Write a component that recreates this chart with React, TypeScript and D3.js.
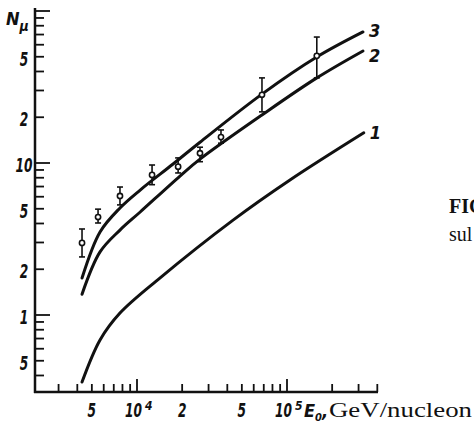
import React from 'react';
import * as d3 from 'd3';

// energies (GeV/nucleon) and muon numbers
const curve3E = [4300, 5670, 7700, 10500, 17400, 26300, 68100, 158000, 321000];
const curve3N = [1.75, 3.52, 5.06, 6.64, 9.85, 13.7, 28.4, 49.8, 72.8];
const curve2E = [4300, 5670, 7700, 10500, 19350, 26300, 68100, 158000, 321000];
const curve2N = [1.37, 2.6, 3.62, 4.76, 8.21, 10.6, 20.7, 36.3, 54.6];
const curve1E = [4300, 5670, 7700, 14200, 43700, 104700, 325000];
const curve1N = [0.362, 0.685, 1.03, 1.75, 4.21, 7.73, 15.8];

const pointE = [4300, 5500, 7700, 12600, 18800, 26300, 36300, 68100, 158000];
const pointN = [2.98, 4.41, 6.07, 8.35, 9.46, 11.6, 14.8, 28.1, 50.7];
const pointLo = [2.41, 4.03, 5.3, 7.2, 8.6, 10.2, 13.5, 21.7, 36.3];
const pointHi = [3.68, 4.97, 6.95, 9.7, 10.8, 12.7, 16.5, 36.3, 67.4];

const xMinor = [3000, 4000, 5000, 6000, 7000, 8000, 9000, 20000, 30000, 40000, 50000, 60000, 70000, 80000, 90000, 200000, 300000, 400000];
const xMajor = [10000, 100000];
const xMajorExp = ['4', '5'];
const xLabels = [[5000, '5'], [20000, '2'], [50000, '5']];
const yMinor = [0.4, 0.5, 0.6, 0.7, 0.8, 0.9, 2, 3, 4, 5, 6, 7, 8, 9, 20, 30, 40, 50, 60, 70, 80, 90];
const yMajor = [1, 10, 100];
const yLabels = [[0.5, '5'], [1, '1'], [2, '2'], [5, '5'], [10, '10'], [20, '2'], [50, '5']];
const curveNames = ['3', '2', '1'];

const W = 474;
const H = 427;
const axisX = 35;
const axisY = 392;
const numFont = "'Liberation Sans Narrow', 'DejaVu Sans Condensed', sans-serif";
const serif = "'Liberation Serif', 'DejaVu Serif', serif";
const digitW = 8.5;

export default function App() {
  const x = d3.scaleLog().domain([1e4, 1e5]).range([137, 287]);
  const y = d3.scaleLog().domain([1, 10]).range([315, 163]);

  const line = d3.line<[number, number]>()
    .x(d => x(d[0]))
    .y(d => y(d[1]))
    .curve(d3.curveCatmullRom.alpha(0.5));

  const curves = [
    d3.zip(curve3E, curve3N),
    d3.zip(curve2E, curve2N),
    d3.zip(curve1E, curve1N),
  ] as [number, number][][];
  const labelDy = [5, 11, 6];

  const points = pointE.map((e, i) => ({ e, n: pointN[i], lo: pointLo[i], hi: pointHi[i] }));

  return (
    <svg width={W} height={H} style={{ position: 'absolute', left: 0, top: 0, background: '#fff' }}>
      {/* axes */}
      <g stroke="#111" strokeWidth={2.5} fill="none">
        <line x1={axisX} y1={8} x2={axisX} y2={axisY + 1} />
        <line x1={axisX - 1} y1={axisY} x2={378} y2={axisY} />
      </g>
      <g stroke="#111" strokeWidth={1.8}>
        {yMinor.map(v => <line key={'ym' + v} x1={axisX} x2={axisX + 9} y1={y(v)} y2={y(v)} />)}
        {yMajor.map(v => <line key={'yM' + v} x1={axisX} x2={axisX + 15} y1={y(v)} y2={y(v)} />)}
        {xMinor.map(v => <line key={'xm' + v} x1={x(v)} x2={x(v)} y1={axisY} y2={axisY - 8} />)}
        {xMajor.map(v => <line key={'xM' + v} x1={x(v)} x2={x(v)} y1={axisY} y2={axisY - 13} />)}
      </g>

      {/* tick labels */}
      <g fontFamily={numFont} fontStyle="italic" fontWeight="bold" fontSize={20} fill="#111">
        {yLabels.map(([v, t]) => {
          const w = (t as string).length * digitW;
          return (
            <text key={'yl' + v} x={24 - w / 2} y={y(v as number) + 9}
              textLength={w} lengthAdjust="spacingAndGlyphs">{t}</text>
          );
        })}
        {xLabels.map(([v, t]) => (
          <text key={'xl' + v} x={x(v as number) - digitW / 2} y={417}
            textLength={digitW} lengthAdjust="spacingAndGlyphs">{t}</text>
        ))}
        {xMajor.map((v, i) => (
          <g key={'xp' + v}>
            <text x={x(v) - 12} y={417} textLength={2 * digitW} lengthAdjust="spacingAndGlyphs">10</text>
            <text x={x(v) + 8} y={410} fontSize={12}>{xMajorExp[i]}</text>
          </g>
        ))}
        <text x={6} y={25} fontSize={18}>
          N<tspan fontSize={14} dy={6}>μ</tspan>
        </text>
      </g>

      {/* x axis title */}
      <text x={304} y={417} fontFamily={numFont} fontStyle="italic" fontWeight="bold" fontSize={18} fill="#111">
        E<tspan fontSize={11} dy={4}>0</tspan><tspan dy={-4}>,</tspan>
      </text>
      <text x={329} y={417} fontFamily={serif} fontSize={22} fill="#111"
        textLength={143} lengthAdjust="spacingAndGlyphs">GeV/nucleon</text>

      {/* curves */}
      <g fill="none" stroke="#111" strokeWidth={3} strokeLinecap="round">
        {curves.map((c, i) => <path key={'c' + i} d={line(c) || ''} />)}
      </g>
      <g fontFamily={numFont} fontStyle="italic" fontWeight="bold" fontSize={18} fill="#111">
        {curves.map((c, i) => {
          const last = c[c.length - 1];
          return <text key={'cl' + i} x={x(last[0]) + 6} y={y(last[1]) + labelDy[i]}>{curveNames[i]}</text>;
        })}
      </g>

      {/* data points with error bars */}
      <g stroke="#111" strokeWidth={1.6}>
        {points.map((p, i) => (
          <g key={'p' + i}>
            <line x1={x(p.e)} x2={x(p.e)} y1={y(p.hi)} y2={y(p.lo)} />
            <line x1={x(p.e) - 3} x2={x(p.e) + 3} y1={y(p.hi)} y2={y(p.hi)} />
            <line x1={x(p.e) - 3} x2={x(p.e) + 3} y1={y(p.lo)} y2={y(p.lo)} />
            <circle cx={x(p.e)} cy={y(p.n)} r={2.6} fill="#fff" />
          </g>
        ))}
      </g>

      {/* caption, cut off at the right edge as in the scan */}
      <g fontFamily={serif} fontSize={20} fill="#111">
        <text x={449} y={213} fontWeight="bold">FIG</text>
        <text x={449} y={241}>sul</text>
      </g>
    </svg>
  );
}
